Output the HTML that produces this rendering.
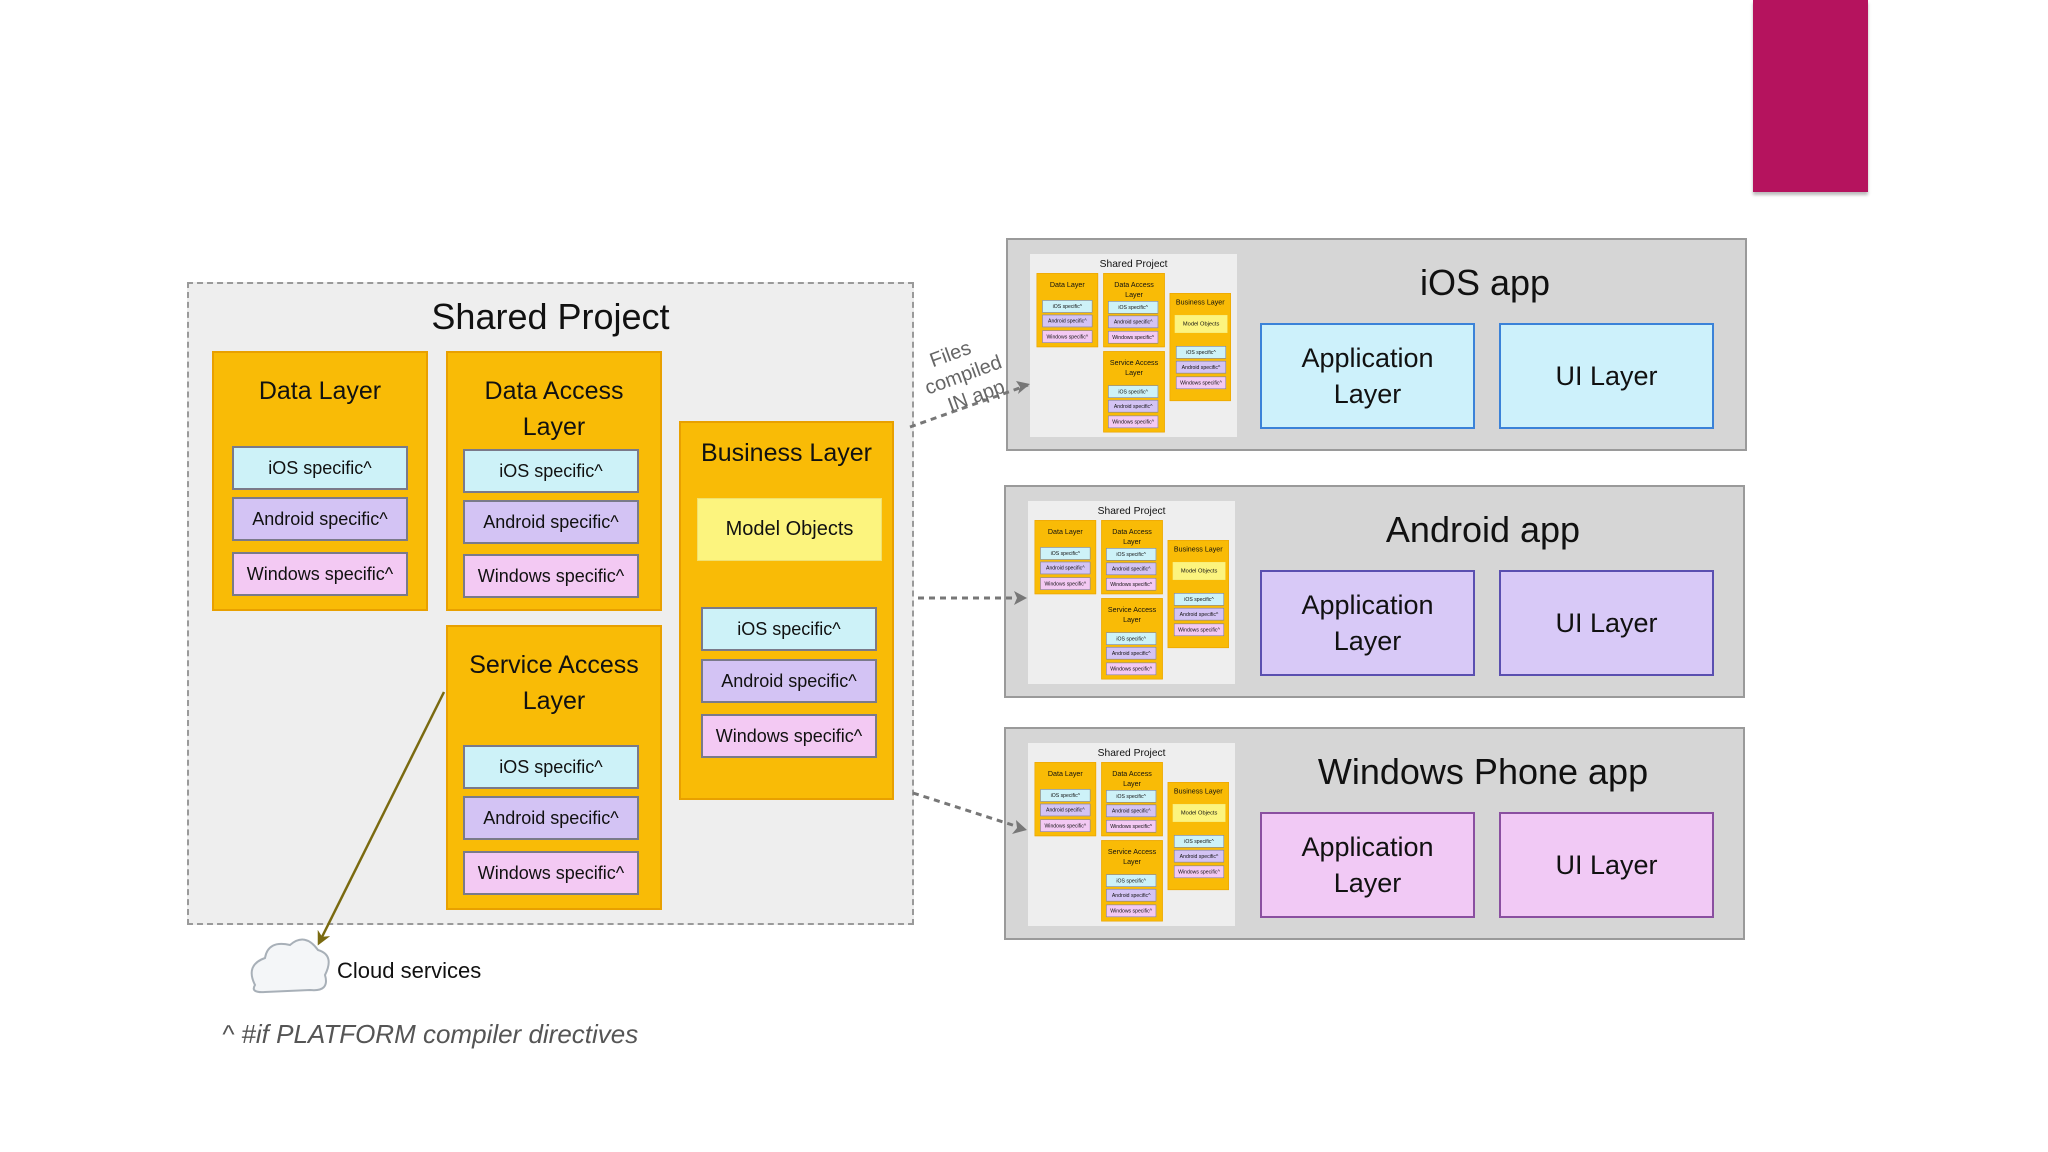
<!DOCTYPE html>
<html><head><meta charset="utf-8"><style>
*{margin:0;padding:0;box-sizing:border-box}
body{width:2048px;height:1152px;background:#fff;position:relative;overflow:hidden;font-family:"Liberation Sans",sans-serif;color:#111}
.a{position:absolute}
.sp{position:absolute;width:727px;height:643px;background:#eeeeee}
.main{left:187px;top:282px;border:2px dashed #9a9a9a}
.ttl{position:absolute;left:0;width:100%;text-align:center;font-size:36px;top:12px}
.L{position:absolute;background:#f9bb06;border:2px solid #e8a000}
.L h3{font-weight:normal;font-size:25px;text-align:center;line-height:36px;margin-top:20px}
.s{position:absolute;width:176px;height:44px;border:2px solid #7a7a8a;font-size:18px;text-align:center;line-height:40px;white-space:nowrap}
.i{background:#cdf2f8}.d{background:#d3c3f4}.w{background:#f3c9f3}
.app{position:absolute;width:741px;height:213px;background:#d6d6d6;border:2px solid #9a9a9a}
.app .t{position:absolute;left:217px;right:0;text-align:center;font-size:36px;top:22px}
.thumb{position:absolute;left:22px;top:14px;width:207px;height:183px;overflow:hidden;background:#eee}
.thumb .sp{transform:scale(0.285);transform-origin:0 0;left:0;top:0}
.b{position:absolute;top:83px;width:215px;height:106px;border:2px solid;font-size:27px;text-align:center;display:flex;align-items:center;justify-content:center;line-height:36px}
</style></head><body>
<div class="a" style="left:1753px;top:0;width:115px;height:192px;background:#b5135e;box-shadow:0 3px 3px #bbb"></div>

<div class="sp main" id="sp">
<div class="ttl">Shared Project</div>
<div class="L" style="left:23px;top:67px;width:216px;height:260px"><h3>Data Layer</h3>
<div class="s i" style="left:18px;top:93px">iOS specific^</div>
<div class="s d" style="left:18px;top:144px">Android specific^</div>
<div class="s w" style="left:18px;top:199px">Windows specific^</div></div>
<div class="L" style="left:257px;top:67px;width:216px;height:260px"><h3>Data Access<br>Layer</h3>
<div class="s i" style="left:15px;top:96px">iOS specific^</div>
<div class="s d" style="left:15px;top:147px">Android specific^</div>
<div class="s w" style="left:15px;top:201px">Windows specific^</div></div>
<div class="L" style="left:257px;top:341px;width:216px;height:285px"><h3>Service Access<br>Layer</h3>
<div class="s i" style="left:15px;top:118px">iOS specific^</div>
<div class="s d" style="left:15px;top:169px">Android specific^</div>
<div class="s w" style="left:15px;top:224px">Windows specific^</div></div>
<div class="L" style="left:490px;top:137px;width:215px;height:379px"><h3 style="margin-top:12px">Business Layer</h3>
<div class="a" style="left:16px;top:75px;width:185px;height:63px;background:#fcf47e;border:1px solid #f0e070;font-size:20px;text-align:center;line-height:61px">Model Objects</div>
<div class="s i" style="left:20px;top:184px">iOS specific^</div>
<div class="s d" style="left:20px;top:236px">Android specific^</div>
<div class="s w" style="left:20px;top:291px">Windows specific^</div></div>
</div>

<div class="app" style="left:1006px;top:238px"><div class="thumb"></div><div class="t">iOS app</div>
<div class="b" style="left:252px;background:#cdf1fb;border-color:#3b82d8">Application<br>Layer</div>
<div class="b" style="left:491px;background:#cdf1fb;border-color:#3b82d8">UI Layer</div></div>
<div class="app" style="left:1004px;top:485px"><div class="thumb"></div><div class="t">Android app</div>
<div class="b" style="left:254px;background:#d8c9f7;border-color:#5a4fb0">Application<br>Layer</div>
<div class="b" style="left:493px;background:#d8c9f7;border-color:#5a4fb0">UI Layer</div></div>
<div class="app" style="left:1004px;top:727px"><div class="thumb"></div><div class="t">Windows Phone app</div>
<div class="b" style="left:254px;background:#f1c9f5;border-color:#8a4fa0">Application<br>Layer</div>
<div class="b" style="left:493px;background:#f1c9f5;border-color:#8a4fa0">UI Layer</div></div>

<svg class="a" style="left:0;top:0" width="2048" height="1152">
<defs><marker id="m" markerWidth="7" markerHeight="7" refX="6" refY="3.5" orient="auto" markerUnits="userSpaceOnUse" viewBox="0 0 10 10"><path d="M0,0 L10,5 L0,10 L3,5z" fill="#777"/></marker>
<marker id="o" markerWidth="14" markerHeight="14" refX="8" refY="5" orient="auto" markerUnits="userSpaceOnUse" viewBox="0 0 10 10"><path d="M0,0 L10,5 L0,10 L3,5z" fill="#7a6a10"/></marker></defs>
<g stroke="#777" stroke-width="3" stroke-dasharray="6,5" fill="none">
<path d="M910,427 L1028,385"/>
<path d="M918,598 L1025,598"/>
<path d="M913,793 L1025,829"/>
</g>
<g fill="#777"><path d="M1030,384 l-14,-3 l4,6 l-2,7z"/><path d="M1027,598 l-13,-7 l3,7 l-3,7z"/><path d="M1027,830 l-11,-10 l1,8 l-5,6z"/></g>
<path d="M444,692 L319,943" stroke="#7a6a10" stroke-width="2.5" marker-end="url(#o)"/>
<text x="960" y="380" transform="rotate(-20 960 366)" font-family="Liberation Sans" font-size="20" fill="#666" text-anchor="middle"><tspan x="955" dy="-22">Files</tspan><tspan x="960" dy="24">compiled</tspan><tspan x="965" dy="24">IN app</tspan></text>
<g fill="#f4f6f8" stroke="#a8b0b8" stroke-width="2">
<path d="M255,985 Q245,965 265,958 Q268,940 290,945 Q305,932 318,950 Q335,955 325,975 Q330,992 310,990 L265,992 Q250,993 255,985z"/>
</g>
</svg>
<div class="a" style="left:337px;top:958px;font-size:22px">Cloud services</div>
<div class="a" style="left:222px;top:1019px;font-size:26px;font-style:italic;color:#555">^ #if PLATFORM compiler directives</div>
<script>
var sp=document.getElementById('sp');
document.querySelectorAll('.thumb').forEach(function(t){var c=sp.cloneNode(true);c.removeAttribute('id');c.classList.remove('main');t.appendChild(c);});
</script>
</body></html>
